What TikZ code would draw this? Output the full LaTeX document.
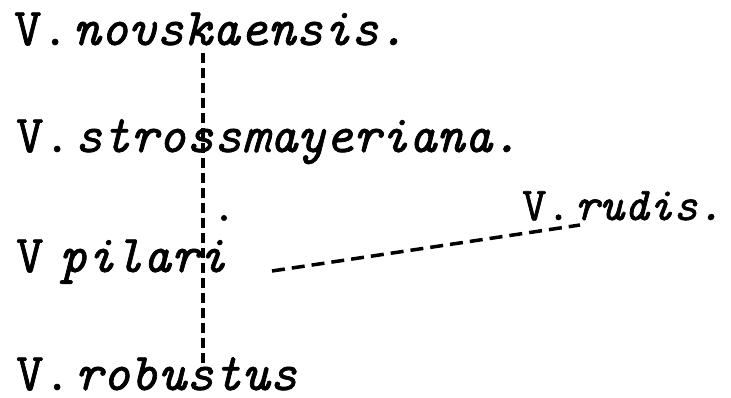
\documentclass[tikz,border=0pt]{standalone}
\usepackage{fontspec}
\setmonofont{Latin Modern Mono}[FakeBold=1.3]
\usepackage{tikz}
\usetikzlibrary{calc}
\newcommand{\gen}{\textup{V.}}
\newcommand{\taxonsize}[1]{\fontsize{#1}{#1}\selectfont\ttfamily\itshape
  \fontdimen2\font=4pt\relax}
\tikzset{
  taxon/.style={anchor=base west,inner sep=0pt,font=\taxonsize{53}},
  dashline/.style={line width=3.5pt,dash pattern=on 10pt off 5pt},
  linkline/.style={line width=3.5pt,dash pattern=on 13pt off 7pt}
}
\begin{document}
\begin{tikzpicture}[x=1pt,y=-1pt]
  \useasboundingbox (0,0) rectangle (731,398);
  \node[taxon] (nov) at (14,45) {\gen{} novskaensis.};
  \node[taxon] (str) at (16,152) {\gen{} strossmayeriana.};
  \node[taxon] (pil) at (16,272) {\textup{V}\kern12pt{} pilari};
  \node[taxon] (rob) at (16,390) {\gen{} robustus};
  \node[taxon,font=\taxonsize{47}] (rud) at (522,220) {\gen{} rudis.};
  \coordinate (stem) at (203,0);
  \draw[dashline] ($(stem |- nov.base)+(0,8)$) -- ($(stem |- rob.base)+(0,-27)$);
  \draw[linkline] (272,271) -- ($(rud.base west)+(58,5)$);
  \fill (224,218) circle (3pt);
\end{tikzpicture}
\end{document}
